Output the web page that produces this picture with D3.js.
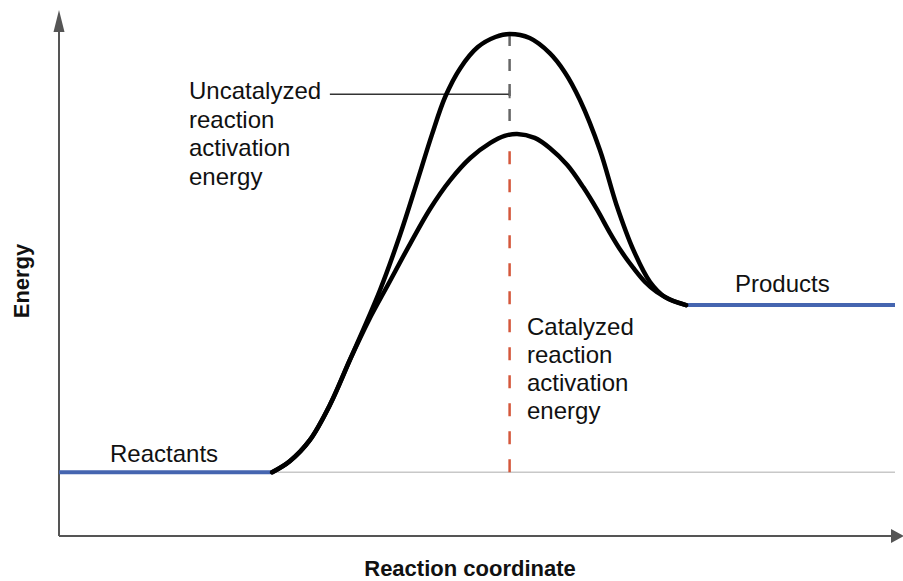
<!DOCTYPE html>
<html>
<head>
<meta charset="utf-8">
<script src="https://cdn.jsdelivr.net/npm/d3@7"></script>
<style>
  body { margin: 0; background: #fff; }
  svg { display: block; font-family: "Liberation Sans", Arial, sans-serif; }
</style>
</head>
<body>
<svg id="chart" width="903" height="581"></svg>
<script>
// reaction coordinate (0-100) vs energy (0-100)
const uncatalyzed = [
  [25.5, 12.7], [27.6, 14.9], [30.0, 19.1], [32.4, 26.1], [34.8, 35.1], [38.4, 49.0],
  [40.8, 60.0], [42.9, 70.9], [44.6, 79.9], [46.2, 87.5], [48.0, 93.2], [50.1, 97.4],
  [52.2, 99.4], [53.9, 100], [56.3, 99.2], [58.7, 96.2], [60.5, 92.4], [62.3, 86.9],
  [64.7, 76.9], [66.7, 65.9], [68.7, 57.0], [70.7, 50.6], [72.5, 47.6], [75.0, 46.0]
];
const catalyzed = [
  [25.5, 12.7], [27.6, 14.9], [30.0, 19.1], [32.4, 26.1], [34.8, 35.1], [37.0, 42.8],
  [39.4, 50.2], [42.0, 58.2], [44.4, 65.2], [46.8, 70.9], [49.2, 75.3], [51.6, 78.3],
  [53.3, 79.7], [54.8, 80.1], [56.9, 79.3], [58.7, 77.3], [60.8, 73.9], [62.7, 69.5],
  [64.4, 64.9], [65.9, 60.4], [67.3, 56.6], [68.7, 53.4], [70.1, 50.6], [71.5, 48.6],
  [73.1, 47.1], [75.0, 46.0]
];
const levels = [
  { name: 'Reactants', x0: 0, x1: 25.5, energy: 12.7 },
  { name: 'Products', x0: 75, x1: 100, energy: 46.0 }
];
const peakX = 53.9;
const uncatalyzedPeak = 100;
const catalyzedPeak = 80.1;
const uncatalyzedLabel = ['Uncatalyzed', 'reaction', 'activation', 'energy'];
const catalyzedLabel = ['Catalyzed', 'reaction', 'activation', 'energy'];
const axisLabels = { x: 'Reaction coordinate', y: 'Energy' };

const svg = d3.select('#chart');
const x = d3.scaleLinear().domain([0, 100]).range([59, 895]);
const y = d3.scaleLinear().domain([0, 100]).range([536, 34]);

const axisColor = '#555';
const levelColor = '#4565b0';
const catColor = '#d4573b';

// baseline at reactant energy
svg.append('line')
  .attr('x1', x(0)).attr('x2', x(100))
  .attr('y1', y(levels[0].energy)).attr('y2', y(levels[0].energy))
  .attr('stroke', '#c8c8c8').attr('stroke-width', 1.5);

// axes with arrow heads
svg.append('line')
  .attr('x1', x(0)).attr('x2', x(0)).attr('y1', y(0)).attr('y2', 30)
  .attr('stroke', axisColor).attr('stroke-width', 2);
svg.append('path')
  .attr('d', `M${x(0)},10 L${x(0) - 5.5},32 L${x(0) + 5.5},32 Z`)
  .attr('fill', axisColor);
svg.append('line')
  .attr('x1', x(0)).attr('x2', 893).attr('y1', y(0)).attr('y2', y(0))
  .attr('stroke', axisColor).attr('stroke-width', 2);
svg.append('path')
  .attr('d', `M904,${y(0)} L891,${y(0) - 7} L891,${y(0) + 7} Z`)
  .attr('fill', axisColor);

// dashed peak markers
svg.append('line')
  .attr('x1', x(peakX)).attr('x2', x(peakX))
  .attr('y1', y(uncatalyzedPeak)).attr('y2', y(catalyzedPeak))
  .attr('stroke', '#666').attr('stroke-width', 2.5)
  .attr('stroke-dasharray', '12,13');
svg.append('line')
  .attr('x1', x(peakX)).attr('x2', x(peakX))
  .attr('y1', y(levels[0].energy)).attr('y2', y(catalyzedPeak) + 3)
  .attr('stroke', catColor).attr('stroke-width', 2.5)
  .attr('stroke-dasharray', '13,15');

// leader from the uncatalyzed label
const leaderY = 88;
svg.append('line')
  .attr('x1', x(32.4)).attr('x2', x(peakX))
  .attr('y1', y(leaderY)).attr('y2', y(leaderY))
  .attr('stroke', '#333').attr('stroke-width', 1.5);
svg.append('line')
  .attr('x1', x(peakX)).attr('x2', x(peakX))
  .attr('y1', y(leaderY) - 4).attr('y2', y(leaderY) + 4)
  .attr('stroke', '#666').attr('stroke-width', 2);

// energy levels
svg.selectAll('.level')
  .data(levels)
  .join('line')
  .attr('class', 'level')
  .attr('x1', d => x(d.x0)).attr('x2', d => x(d.x1))
  .attr('y1', d => y(d.energy)).attr('y2', d => y(d.energy))
  .attr('stroke', levelColor).attr('stroke-width', 4);

// reaction curves
const line = d3.line()
  .x(d => x(d[0]))
  .y(d => y(d[1]))
  .curve(d3.curveCatmullRom.alpha(0.5));

svg.selectAll('.curve')
  .data([uncatalyzed, catalyzed])
  .join('path')
  .attr('class', 'curve')
  .attr('d', line)
  .attr('fill', 'none')
  .attr('stroke', '#000')
  .attr('stroke-width', 4.5)
  .attr('stroke-linecap', 'round');

// text labels
function multiline(lines, px, py, step){
  const t = svg.append('text')
    .attr('x', px).attr('y', py)
    .attr('font-size', 24).attr('fill', '#111');
  lines.forEach((s, i) => {
    t.append('tspan').attr('x', px).attr('y', py + i * step).text(s);
  });
}
multiline(uncatalyzedLabel, 189, 99, 28.7);
multiline(catalyzedLabel, 527, 335, 28);

svg.append('text')
  .attr('x', 110).attr('y', 462)
  .attr('font-size', 24).attr('fill', '#111')
  .text(levels[0].name);
svg.append('text')
  .attr('x', 735).attr('y', 292)
  .attr('font-size', 24).attr('fill', '#111')
  .text(levels[1].name);

svg.append('text')
  .attr('x', 470).attr('y', 576)
  .attr('text-anchor', 'middle')
  .attr('font-size', 22).attr('font-weight', 'bold').attr('fill', '#111')
  .text(axisLabels.x);
svg.append('text')
  .attr('transform', 'translate(29,281) rotate(-90)')
  .attr('text-anchor', 'middle')
  .attr('font-size', 22).attr('font-weight', 'bold').attr('fill', '#111')
  .text(axisLabels.y);
</script>
</body>
</html>
